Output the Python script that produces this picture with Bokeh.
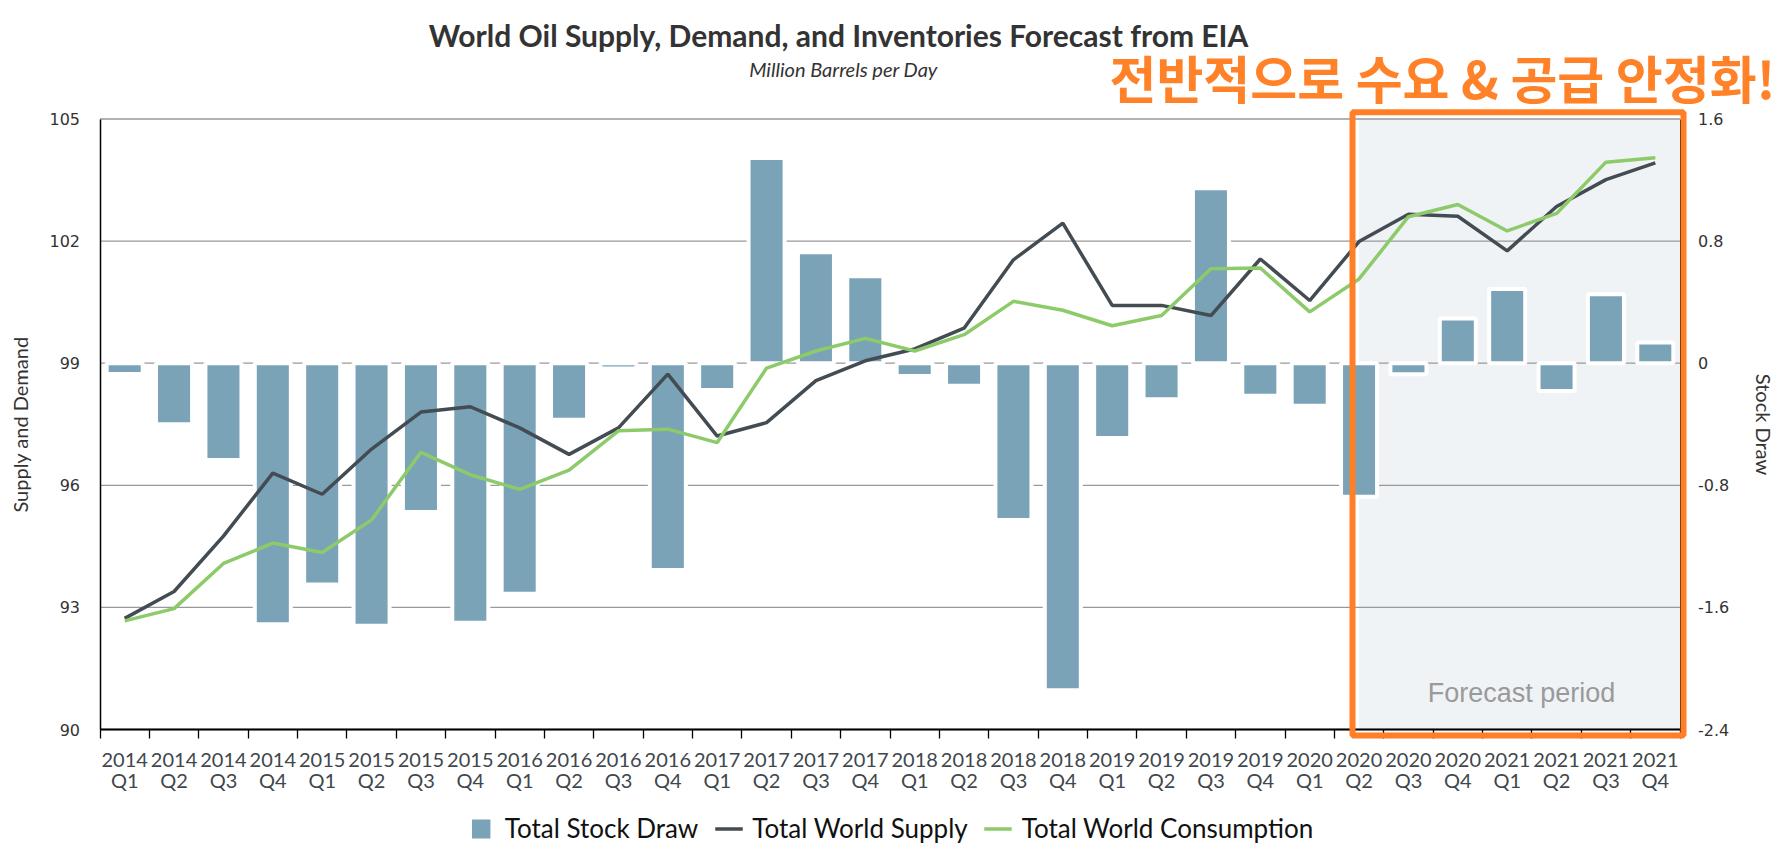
from bokeh.plotting import figure
from bokeh.models import (Range1d, LinearAxis, FixedTicker, BoxAnnotation, Label,
                          Legend, LegendItem, ColumnDataSource)
from bokeh.embed import file_html
from bokeh.resources import INLINE

# ---------------- data ----------------
years = ["2014"] * 4 + ["2015"] * 4 + ["2016"] * 4 + ["2017"] * 4 + \
        ["2018"] * 4 + ["2019"] * 4 + ["2020"] * 4 + ["2021"] * 4
quarters = ["Q1", "Q2", "Q3", "Q4"] * 8

stock_draw = [-0.07, -0.40, -0.635, -1.71, -1.45, -1.72, -0.975, -1.70,
              -1.51, -0.37, -0.035, -1.355, -0.175, 1.345, 0.727, 0.569,
              -0.084, -0.148, -1.028, -2.143, -0.49, -0.237, 1.147, -0.213,
              -0.279, -0.875, -0.073, 0.293, 0.486, -0.182, 0.451, 0.136]

world_supply = [92.73, 93.39, 94.75, 96.30, 95.78, 96.89, 97.80, 97.93,
                97.41, 96.76, 97.41, 98.73, 97.21, 97.54, 98.57, 99.06,
                99.35, 99.86, 101.54, 102.44, 100.42, 100.42, 100.17, 101.56,
                100.54, 101.99, 102.66, 102.61, 101.76, 102.85, 103.51, 103.92]

world_consumption = [92.67, 92.97, 94.08, 94.58, 94.35, 95.15, 96.81, 96.26,
                     95.90, 96.37, 97.34, 97.38, 97.05, 98.88, 99.30, 99.61,
                     99.30, 99.70, 100.52, 100.30, 99.92, 100.17, 101.32, 101.34,
                     100.26, 101.07, 102.60, 102.90, 102.25, 102.68, 103.94, 104.05]

left_ticks = [90, 93, 96, 99, 102, 105]
right_ticks = [-2.4, -1.6, -0.8, 0, 0.8, 1.6]
right_tick_labels = ["-2.4", "-1.6", "-0.8", "0", "0.8", "1.6"]
forecast_start = "2020 Q2"

title_text = "World Oil Supply, Demand, and Inventories Forecast from EIA"
subtitle_text = "Million Barrels per Day"
note_text = "전반적으로 수요 & 공급 안정화!"
forecast_text = "Forecast period"

# --------------- layout (pixels on the 1780x860 canvas) ----------------
W, H = 1780, 860
PA_L, PA_R, PA_T, PA_B = 99.5, 1679.5, 118.5, 729.0   # plot area

n = len(years)
y_lo, y_hi = left_ticks[0], left_ticks[-1]
r_lo, r_hi = right_ticks[0], right_ticks[-1]
ppx = (PA_R - PA_L) / n
ppy = (PA_B - PA_T) / (y_hi - y_lo)
ppr = (PA_B - PA_T) / (r_hi - r_lo)


def dx(X):
    return -0.5 + (X - PA_L) / ppx


def dy(Y):
    return y_hi - (Y - PA_T) / ppy


xs = list(range(n))
labels = [f"{y}\n{q}" for y, q in zip(years, quarters)]
fc_idx = [f"{y} {q}" for y, q in zip(years, quarters)].index(forecast_start)

src = ColumnDataSource(dict(x=xs, draw=stock_draw, supply=world_supply,
                            cons=world_consumption))

p = figure(width=W, height=H,
           x_range=Range1d(dx(0), dx(W)), y_range=Range1d(dy(H), dy(0)),
           x_axis_location=None, y_axis_location=None,
           output_backend="svg", toolbar_location=None, min_border=0)
p.outline_line_color = None
p.background_fill_color = "white"
p.border_fill_color = "white"
p.extra_y_ranges = {"draw": Range1d(r_lo - (H - PA_B) / ppr, r_hi + PA_T / ppr)}
p.xgrid.visible = False
p.ygrid.visible = False

# forecast shade
p.add_layout(BoxAnnotation(left=fc_idx, right=n - 0.5, bottom=y_lo, top=y_hi,
                           fill_color="#eff3f6", fill_alpha=1.0, line_color=None,
                           level="underlay"))

# horizontal grid lines
p.segment(x0=[-0.5] * len(left_ticks), x1=[n - 0.5] * len(left_ticks),
          y0=left_ticks, y1=left_ticks, line_color="#999999", line_width=1.3)

# x axis
xa = LinearAxis(fixed_location=y_lo, bounds=(-0.5, n - 0.5),
                ticker=FixedTicker(ticks=xs, minor_ticks=[i - 0.5 for i in range(n + 1)]))
xa.major_label_overrides = {i: labels[i] for i in xs}
xa.major_tick_line_color = None
xa.major_tick_out = 0
xa.major_tick_in = 0
xa.minor_tick_line_color = "black"
xa.minor_tick_line_width = 1.3
xa.minor_tick_out = 9
xa.minor_tick_in = 0
xa.axis_line_color = "black"
xa.axis_line_width = 2
xa.major_label_text_font = "Lato"
xa.major_label_text_font_size = "20px"
xa.major_label_text_line_height = 0.88
xa.major_label_text_color = "#3f474c"
xa.major_label_standoff = 8
p.add_layout(xa, "below")

# left axis
ya = LinearAxis(fixed_location=-0.5, bounds=(y_lo, y_hi),
                ticker=FixedTicker(ticks=left_ticks))
ya.major_tick_line_color = None
ya.minor_tick_line_color = None
ya.axis_line_color = "black"
ya.axis_line_width = 1.5
ya.major_label_text_font = "DejaVu Sans"
ya.major_label_text_font_size = "16px"
ya.major_label_text_color = "#333333"
ya.major_label_standoff = 14
ya.axis_label = "Supply and Demand"
ya.axis_label_text_font = "Lato"
ya.axis_label_text_font_style = "normal"
ya.axis_label_text_font_size = "20px"
ya.axis_label_text_color = "#333333"
ya.axis_label_standoff = 15
p.add_layout(ya, "left")

# right axis
ra = LinearAxis(y_range_name="draw", fixed_location=n - 0.5, bounds=(r_lo, r_hi),
                ticker=FixedTicker(ticks=right_ticks))
ra.major_label_overrides = {t: s for t, s in zip(right_ticks, right_tick_labels)}
ra.major_tick_line_color = None
ra.minor_tick_line_color = None
ra.axis_line_color = "black"
ra.axis_line_width = 1
ra.major_label_text_font = "DejaVu Sans"
ra.major_label_text_font_size = "16px"
ra.major_label_text_color = "#333333"
ra.major_label_standoff = 12
ra.axis_label = "Stock Draw"
ra.axis_label_text_font = "Lato"
ra.axis_label_text_font_style = "normal"
ra.axis_label_text_font_size = "20px"
ra.axis_label_text_color = "#333333"
ra.axis_label_standoff = 19
p.add_layout(ra, "right")

# glyphs
bars = p.vbar(x="x", top="draw", bottom=0, width=0.73, source=src,
              y_range_name="draw", fill_color="#7aa3b8", line_color="white",
              line_width=4)
l_sup = p.line(x="x", y="supply", source=src, line_color="#434c52", line_width=3.5)
l_con = p.line(x="x", y="cons", source=src, line_color="#8dca6a", line_width=3.5)

# texts
p.add_layout(Label(x=dx(1521), y=dy(692), text=forecast_text, text_align="center",
                   text_baseline="middle", text_font="Liberation Sans",
                   text_font_size="27px", text_color="#9a9a9a"))
p.add_layout(Label(x=dx(838), y=dy(34), text=title_text, text_align="center",
                   text_baseline="middle", text_font="Lato", text_font_style="bold",
                   text_font_size="30px", text_color="#333333"))
p.add_layout(Label(x=dx(843), y=dy(68), text=subtitle_text, text_align="center",
                   text_baseline="middle", text_font="Lato", text_font_style="italic",
                   text_font_size="20px", text_color="#333333"))

# orange annotation
p.add_layout(BoxAnnotation(left=dx(1352), right=dx(1683), top=dy(111.7), bottom=dy(735),
                           fill_alpha=0, line_color="#ff7f27", line_alpha=1.0,
                           line_width=6, level="overlay"))
p.add_layout(Label(x=dx(1442), y=dy(76), text=note_text, text_align="center",
                   text_baseline="middle", text_font="Noto Sans CJK KR",
                   text_font_style="bold", text_font_size="51px",
                   text_color="#ff8128"))

# legend
legend = Legend(items=[LegendItem(label="Total Stock Draw", renderers=[bars]),
                       LegendItem(label="Total World Supply", renderers=[l_sup]),
                       LegendItem(label="Total World Consumption", renderers=[l_con])],
                orientation="horizontal", location="bottom_center",
                label_text_font="Lato", label_text_font_size="26px",
                label_text_color="#111111", glyph_width=28, glyph_height=29,
                border_line_color=None, background_fill_alpha=0,
                spacing=16, label_standoff=10, margin=16, padding=4)
p.add_layout(legend, "center")

open("out.html", "w").write(file_html(p, INLINE))
